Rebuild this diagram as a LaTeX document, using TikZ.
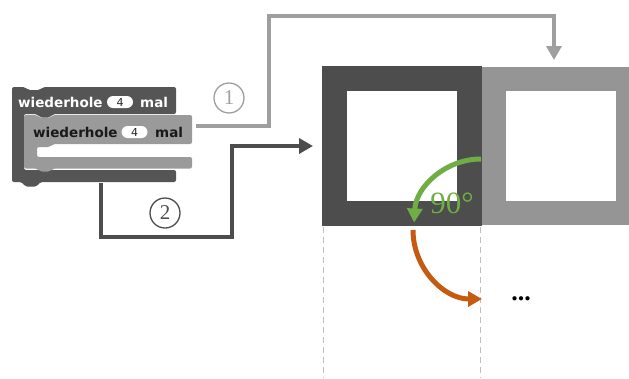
\documentclass[tikz,border=0pt]{standalone}
\usepackage{fontspec}
\setmainfont{Liberation Serif}
\newfontfamily\blockfont{DejaVu Sans}
\usetikzlibrary{arrows.meta}

\definecolor{blockdark}{HTML}{555555}
\definecolor{blocklight}{HTML}{9A9A9A}
\definecolor{sqdark}{HTML}{4D4D4D}
\definecolor{sqlight}{HTML}{959595}
\definecolor{turngreen}{HTML}{6FAD45}
\definecolor{turnorange}{HTML}{C55A11}
\definecolor{guide}{HTML}{BFBFBF}
\definecolor{linklight}{HTML}{9F9F9F}
\definecolor{linkdark}{HTML}{4D4D4D}

\begin{document}
\begin{tikzpicture}[x=1pt,y=-1pt,
  blocktext/.style={font=\blockfont\bfseries\fontsize{13.5}{13.5}\selectfont, inner sep=0pt, anchor=base west},
  pill/.style={fill=white, rounded corners=6pt, minimum width=26pt, minimum height=12pt,
    inner sep=0pt, font=\blockfont\fontsize{11}{11}\selectfont, text=black!85},
  frame/.style={fill=white, inner sep=0pt},
  link/.style={line width=4pt, -{Triangle[length=14pt,width=15pt]}},
  turn/.style={line width=5pt, -{Triangle[length=14pt,width=15pt]}},
  circnum/.style={circle, draw, line width=1.3pt, minimum size=30pt, inner sep=0pt,
    font=\fontsize{21}{21}\selectfont},
  guideline/.style={guide, line width=1pt, dash pattern=on 6pt off 4pt},
]
\clip (0,0) rectangle (629,378);
\fill[white] (0,0) rectangle (629,378);

% outer repeat block (C shape)
\fill[blockdark, rounded corners=2pt]
  (12,87) -- (25,87) -- (28,90) -- (40,90) -- (43,87) -- (176,87) -- (176,114)
  -- (53,114) -- (50,117.5) -- (40,117.5) -- (37,114) -- (24,114) -- (24,170)
  -- (176,170) -- (176,182) -- (40,182) -- (37,186.5) -- (25,186.5) -- (22,182)
  -- (12,182) -- cycle;

% inner repeat block (C shape)
\fill[blocklight, rounded corners=2pt]
  (24,115) -- (37,115) -- (40,118) -- (50,118) -- (53,115) -- (192,115) -- (192,144)
  -- (53,144) -- (50,147) -- (37,147) -- (37,157) -- (192,157) -- (192,168.5)
  -- (53,168.5) -- (50,171.5) -- (40,171.5) -- (37,168.5) -- (24,168.5) -- cycle;

% block labels
\node[blocktext, text=white] (outerLbl) at (18,107) {wiederhole};
\node[pill] (outerNum) at (120,102) {4};
\node[blocktext, text=white] (outerMal) at (140,107) {mal};
\node[blocktext, text=black!90] (innerLbl) at (33,137) {wiederhole};
\node[pill] (innerNum) at (134.5,132) {4};
\node[blocktext, text=black!90] (innerMal) at (155,137) {mal};

% connector start points at the blocks
\coordinate (innerOut) at (196,126);
\coordinate (outerOut) at (101,183);

% the two squares
\node[frame, draw=sqlight, line width=24pt, minimum size=134pt] (sqLight) at (561,146) {};
\node[frame, draw=sqdark, line width=25pt, minimum size=135pt] (sqDark) at (402,146) {};

% guide lines below the first square
\draw[guideline] (323,227) -- (323,378);
\draw[guideline] (480,227) -- (480,378);

% connectors
\draw[link, linklight, shorten >=7pt]
  (innerOut) -- (269,126) -- (269,16) -| ([xshift=-7pt]sqLight.north);
\draw[link, linkdark, shorten >=9pt]
  (outerOut) |- (232,237) |- (sqDark.west);

\node[circnum, draw=linklight, text=linklight] (num1) at (229,98) {1};
\node[circnum, draw=linkdark, text=linkdark] (num2) at (165,213) {2};

% turning arrows
\draw[turn, turngreen] (481,159) arc[start angle=270, end angle=183, radius=67];
\draw[turn, turnorange] (413,230) arc[start angle=180, end angle=90, radius=69];

\node[text=turngreen, font=\fontsize{31}{31}\selectfont, inner sep=0pt] (angle) at (452,203) {90°};
\node[font=\fontsize{26}{26}\selectfont\bfseries, inner sep=0pt, anchor=base] (more) at (521,300.5) {...};
\end{tikzpicture}
\end{document}
